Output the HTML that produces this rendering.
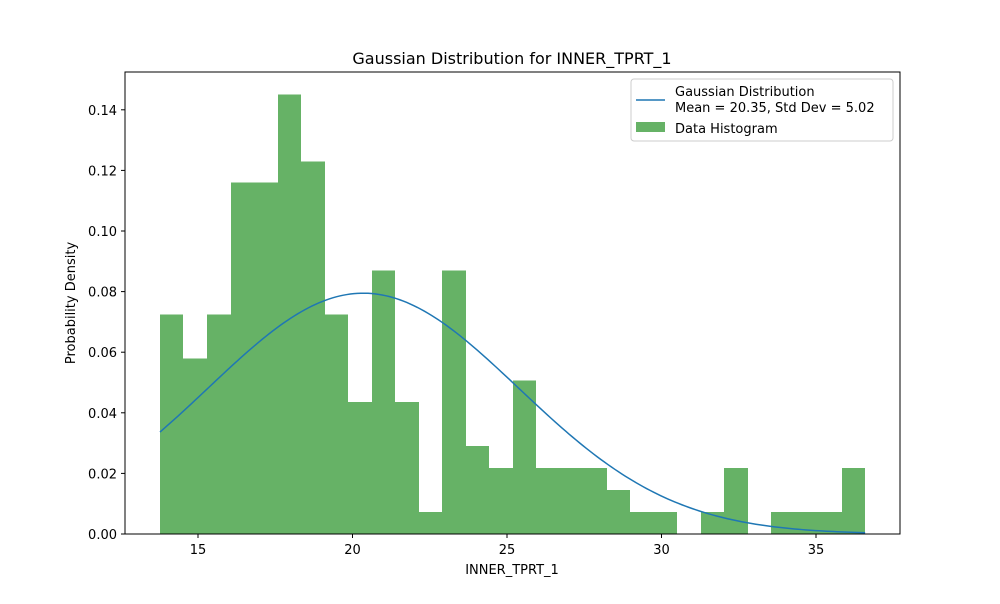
<!DOCTYPE html>
<html><head><meta charset="utf-8"><style>
body{margin:0;background:#fff;font-family:"DejaVu Sans","Liberation Sans",sans-serif;}
svg text{font-family:"DejaVu Sans","Liberation Sans",sans-serif;}
</style></head><body>
<svg id="chart" width="1000" height="600" xmlns="http://www.w3.org/2000/svg">
<rect width="1000" height="600" fill="#fff"/>
<g id="bars" shape-rendering="crispEdges"></g>
<path id="curve" fill="none" stroke="#1f77b4" stroke-width="1.5"/>
<rect x="125" y="72" width="775" height="462" fill="none" stroke="#000" stroke-width="1"/>
<g id="xticks"></g>
<g id="yticks"></g>
<text x="512" y="64" font-size="16" text-anchor="middle">Gaussian Distribution for INNER_TPRT_1</text>
<text x="512" y="574" font-size="13" text-anchor="middle">INNER_TPRT_1</text>
<text transform="translate(75,303) rotate(-90)" font-size="13" text-anchor="middle">Probability Density</text>
<g>
<rect x="631" y="79" width="262" height="62" rx="3" fill="#fff" fill-opacity="0.8" stroke="#ccc"/>
<line x1="636" y1="100" x2="665" y2="100" stroke="#1f77b4" stroke-width="1.5"/>
<text x="675" y="96" font-size="13">Gaussian Distribution</text>
<text x="675" y="112" font-size="13">Mean = 20.35, Std Dev = 5.02</text>
<rect x="636" y="122" width="29" height="10" fill="#66b266"/>
<text x="675" y="133" font-size="13">Data Histogram</text>
</g>
</svg>
<script>
const binStart = 13.77;
const binEnd = 36.59;
const densities = [0.0725,0.058,0.0725,0.116,0.116,0.145,0.123,0.0725,0.0435,0.087,0.0435,0.00725,0.087,0.029,0.0217,0.0507,0.0217,0.0217,0.0217,0.0145,0.00725,0.00725,0,0.00725,0.0217,0,0.00725,0.00725,0.00725,0.0217];
const mean = 20.35;
const std = 5.02;
const xTicks = [15,20,25,30,35];
const yTicks = [0,0.02,0.04,0.06,0.08,0.10,0.12,0.14];
const yTickLabels = ["0.00","0.02","0.04","0.06","0.08","0.10","0.12","0.14"];

const NS="http://www.w3.org/2000/svg";
function xs(v){return 198+(v-15)*30.9;}
function ys(v){return 534-v*3030;}
const bars=document.getElementById('bars');
const w=(binEnd-binStart)/densities.length;
densities.forEach((d,i)=>{
  const r=document.createElementNS(NS,'rect');
  const x0=Math.round(xs(binStart+i*w)), x1=Math.round(xs(binStart+(i+1)*w));
  r.setAttribute('x',x0);r.setAttribute('width',x1-x0);
  r.setAttribute('y',ys(d));r.setAttribute('height',534-ys(d));
  r.setAttribute('fill','#66b266');
  
  
  bars.appendChild(r);
});
let p='';
for(let i=0;i<=200;i++){
  const v=binStart+(binEnd-binStart)*i/200;
  const d=Math.exp(-0.5*((v-mean)/std)**2)/(std*Math.sqrt(2*Math.PI));
  p+=(i?'L':'M')+xs(v).toFixed(2)+','+ys(d).toFixed(2);
}
document.getElementById('curve').setAttribute('d',p);
const xg=document.getElementById('xticks');
xTicks.forEach(t=>{
  const l=document.createElementNS(NS,'line');
  l.setAttribute('x1',xs(t));l.setAttribute('x2',xs(t));l.setAttribute('y1',534);l.setAttribute('y2',538);l.setAttribute('stroke','#000');
  
  
  xg.appendChild(l);
  const tx=document.createElementNS(NS,'text');
  tx.setAttribute('x',xs(t));tx.setAttribute('y',554);tx.setAttribute('font-size','13');tx.setAttribute('text-anchor','middle');
  tx.textContent=t;
  
  
  xg.appendChild(tx);
});
const yg=document.getElementById('yticks');
yTicks.forEach((t,i)=>{
  const l=document.createElementNS(NS,'line');
  l.setAttribute('x1',121);l.setAttribute('x2',125);l.setAttribute('y1',ys(t));l.setAttribute('y2',ys(t));l.setAttribute('stroke','#000');
  
  
  yg.appendChild(l);
  const tx=document.createElementNS(NS,'text');
  tx.setAttribute('x',117);tx.setAttribute('y',ys(t)+5);tx.setAttribute('font-size','13');tx.setAttribute('text-anchor','end');
  tx.textContent=yTickLabels[i];
  
  
  yg.appendChild(tx);
});
</script>
</body></html>
